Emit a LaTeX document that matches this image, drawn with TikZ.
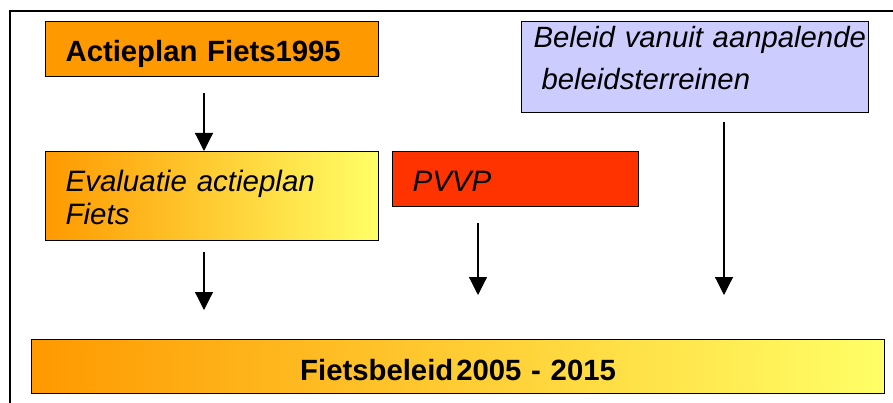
\documentclass[tikz,border=0pt]{standalone}
\usepackage{fontspec}
\setmainfont{Liberation Sans}
\usetikzlibrary{positioning,arrows.meta}
\definecolor{actieorange}{HTML}{FF9900}
\definecolor{actieyellow}{HTML}{FFFF66}
\definecolor{pvvpred}{HTML}{FF3300}
\definecolor{beleidblue}{HTML}{CCCCFF}

\begin{document}
\begin{tikzpicture}[
x=1pt, y=-1pt,
box/.style={draw=black, line width=1.2pt, anchor=north west, inner ysep=0pt, inner xsep=20pt, align=left},
grad/.style={left color=actieorange, right color=actieyellow},
arrow/.style={line width=1.2pt, -{Triangle[width=18pt,length=18pt]}},
boldtext/.style={font=\fontsize{29.3}{33}\selectfont\bfseries},
ittext/.style={font=\fontsize{29.5}{33}\selectfont\itshape}]

\useasboundingbox (0,0) rectangle (893,403);
\draw[line width=1.2pt] (10,410) -- (10,11) -- (900,11);

\node[box, boldtext, fill=actieorange, text width=293pt, text height=40pt, text depth=15pt] (actieplan) at (45,21) {Actieplan Fiets1995};
\node[box, ittext, grad, text width=293pt, text height=40pt, text depth=49pt] (evaluatie) at (45,151) {Evaluatie actieplan\\Fiets};
\node[box, ittext, fill=pvvpred, text width=206pt, text height=40pt, text depth=15pt] (pvvp) at (392,151) {PVVP};
\node[box, fill=beleidblue, inner xsep=12pt, text width=323pt, text height=26pt, text depth=65pt,
  font=\fontsize{29.3}{42}\selectfont\itshape] (beleid) at (521,21)
  {\makebox[323pt][l]{Beleid vanuit aanpalende}\\\hspace*{8pt}beleidsterreinen};
\node[box, boldtext, grad, inner xsep=0pt, align=center, text width=853pt, text height=41pt, text depth=13pt] (fietsbeleid) at (31,339) {Fietsbeleid\hspace{3pt}2005 - 2015};

\coordinate (a1) at (204,93);
\coordinate (a2s) at (204,252);
\coordinate (a2e) at (204,310);
\coordinate (a3s) at (478,223);
\coordinate (a3e) at (478,295);
\coordinate (a4s) at (724,122);
\coordinate (a4e) at (724,295);

\draw[arrow] (a1) -- (a1 |- evaluatie.north);
\draw[arrow] (a2s) -- (a2e);
\draw[arrow] (a3s) -- (a3e);
\draw[arrow] (a4s) -- (a4e);
\end{tikzpicture}
\end{document}
